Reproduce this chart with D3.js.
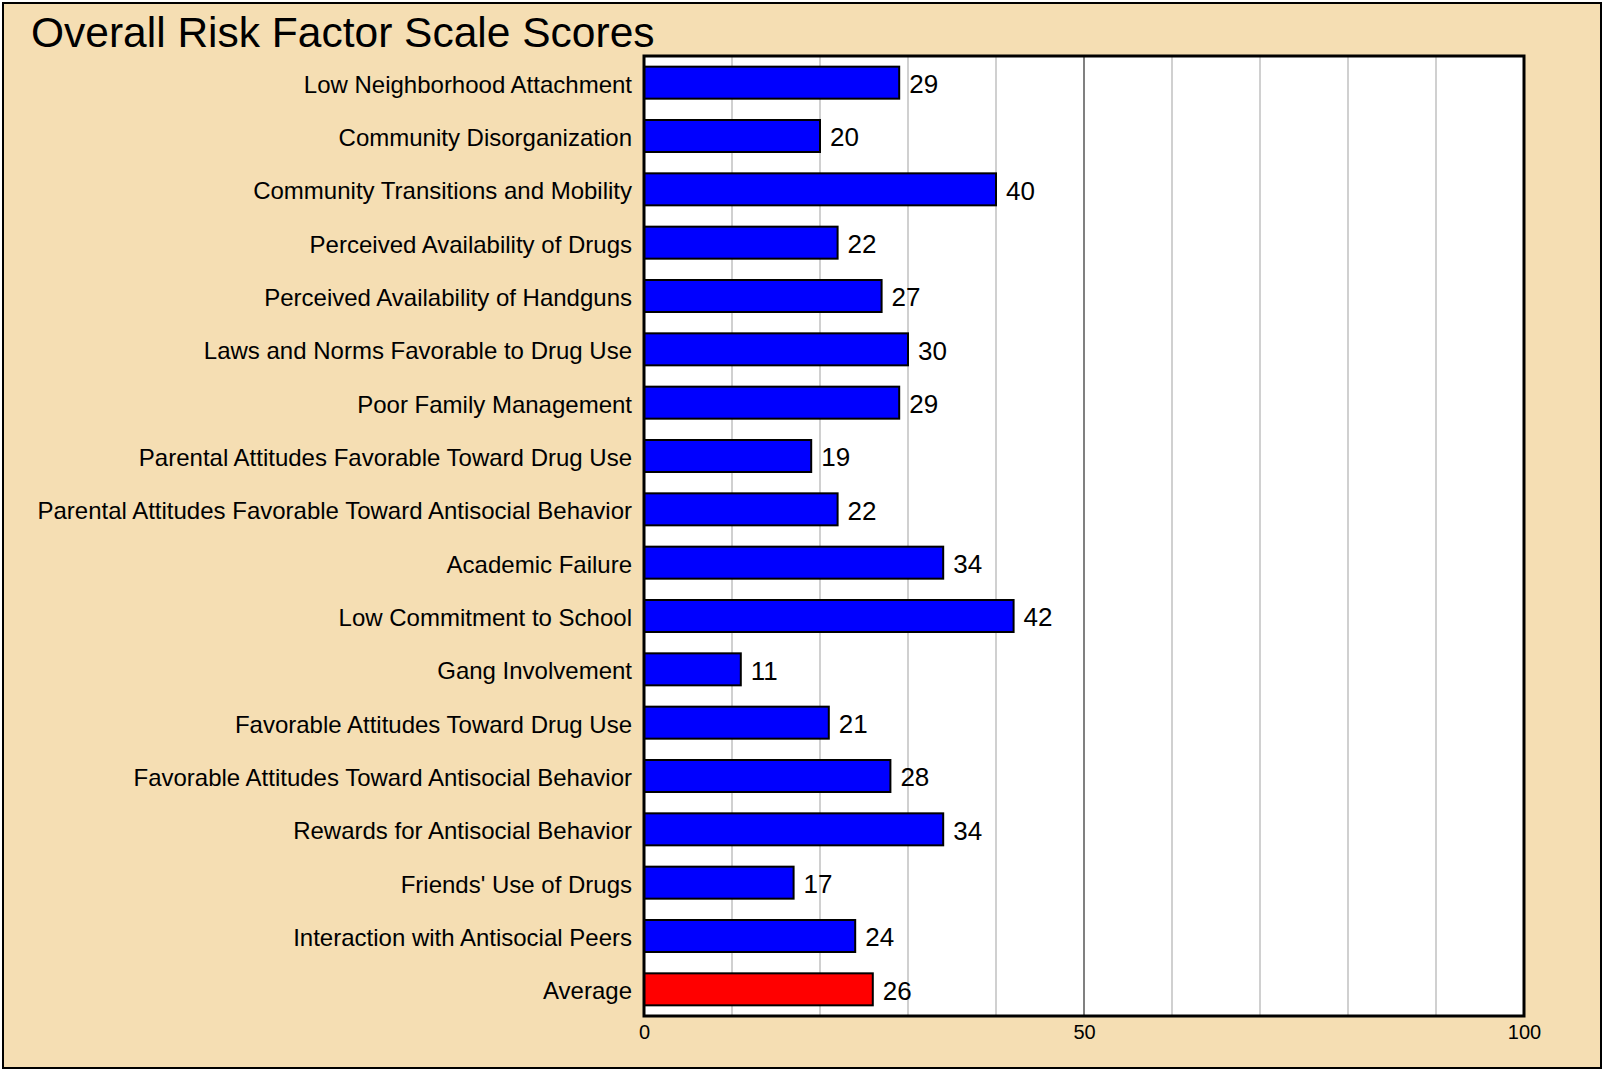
<!DOCTYPE html>
<html>
<head>
<meta charset="utf-8">
<script src="https://cdn.jsdelivr.net/npm/d3@7/dist/d3.min.js"></script>
<style>
  html, body { margin: 0; padding: 0; background: #fff; }
  svg { display: block; font-family: "Liberation Sans", Arial, sans-serif; }
</style>
</head>
<body>
<svg id="chart" width="1604" height="1070"></svg>
<script>
"use strict";

var chartTitle = "Overall Risk Factor Scale Scores";

var categories = [
  "Low Neighborhood Attachment",
  "Community Disorganization",
  "Community Transitions and Mobility",
  "Perceived Availability of Drugs",
  "Perceived Availability of Handguns",
  "Laws and Norms Favorable to Drug Use",
  "Poor Family Management",
  "Parental Attitudes Favorable Toward Drug Use",
  "Parental Attitudes Favorable Toward Antisocial Behavior",
  "Academic Failure",
  "Low Commitment to School",
  "Gang Involvement",
  "Favorable Attitudes Toward Drug Use",
  "Favorable Attitudes Toward Antisocial Behavior",
  "Rewards for Antisocial Behavior",
  "Friends' Use of Drugs",
  "Interaction with Antisocial Peers",
  "Average"
];

var scores = [29, 20, 40, 22, 27, 30, 29, 19, 22, 34, 42, 11, 21, 28, 34, 17, 24, 26];

var tickValues = [0, 50, 100];
var gridValues = [10, 20, 30, 40, 50, 60, 70, 80, 90];

var aData = categories.map(function (c, i) {
  return { name: c, value: scores[i], isAverage: c === "Average" };
});

var svg = d3.select("#chart");
var W = 1604, H = 1070;
var margin = { left: 644, right: 80, top: 56, bottom: 54 };
var iWidth = W - margin.left - margin.right;
var iHeight = H - margin.top - margin.bottom;

// background + outer frame
svg.append("rect")
  .attr("x", 3).attr("y", 3)
  .attr("width", W - 6).attr("height", H - 5)
  .attr("fill", "#f5deb3")
  .attr("stroke", "#000")
  .attr("stroke-width", 2);

svg.append("text")
  .attr("x", 31).attr("y", 47)
  .attr("font-size", 42.5)
  .attr("fill", "#000")
  .text(chartTitle);

var x = d3.scaleLinear().domain([0, 100]).range([0, iWidth]);
var y = d3.scaleBand().domain(categories).range([0, iHeight]).paddingInner(0.4).paddingOuter(0.2);

var g = svg.append("g").attr("transform", "translate(" + margin.left + "," + margin.top + ")");

g.append("rect")
  .attr("width", iWidth).attr("height", iHeight)
  .attr("fill", "#fff");

// grid lines
g.selectAll("line.grid").data(gridValues).enter().append("line")
  .attr("class", "grid")
  .attr("x1", function (d) { return x(d); })
  .attr("x2", function (d) { return x(d); })
  .attr("y1", 0).attr("y2", iHeight)
  .attr("stroke", function (d) { return d === 50 ? "#808080" : "#d0d0d0"; })
  .attr("stroke-width", 2);

// bars
g.selectAll("rect.bar").data(aData).enter().append("rect")
  .attr("class", "bar")
  .attr("x", 0)
  .attr("y", function (d) { return y(d.name); })
  .attr("width", function (d) { return x(d.value); })
  .attr("height", y.bandwidth())
  .attr("fill", function (d) { return d.isAverage ? "#ff0000" : "#0000ff"; })
  .attr("stroke", "#000")
  .attr("stroke-width", 2);

// value labels
g.selectAll("text.val").data(aData).enter().append("text")
  .attr("class", "val")
  .attr("x", function (d) { return x(d.value) + 10; })
  .attr("y", function (d) { return y(d.name) + y.bandwidth() / 2; })
  .attr("dy", "0.4em")
  .attr("font-size", 26)
  .text(function (d) { return d.value; });

// category labels
var yAxis = d3.axisLeft(y).tickSize(0).tickPadding(12);
var yG = g.append("g").call(yAxis);
yG.select(".domain").remove();
yG.selectAll("text").attr("font-size", 24).attr("fill", "#000").attr("font-family", null).attr("dy", "0.42em");

// x axis labels
var xAxis = d3.axisBottom(x).tickValues(tickValues).tickSize(0).tickPadding(9).tickFormat(d3.format("d"));
var xG = g.append("g").attr("transform", "translate(0," + iHeight + ")").call(xAxis);
xG.select(".domain").remove();
xG.selectAll("text").attr("font-size", 20).attr("fill", "#000").attr("font-family", null);

// plot frame
g.append("rect")
  .attr("width", iWidth).attr("height", iHeight)
  .attr("fill", "none")
  .attr("stroke", "#000")
  .attr("stroke-width", 3);
</script>
</body>
</html>
